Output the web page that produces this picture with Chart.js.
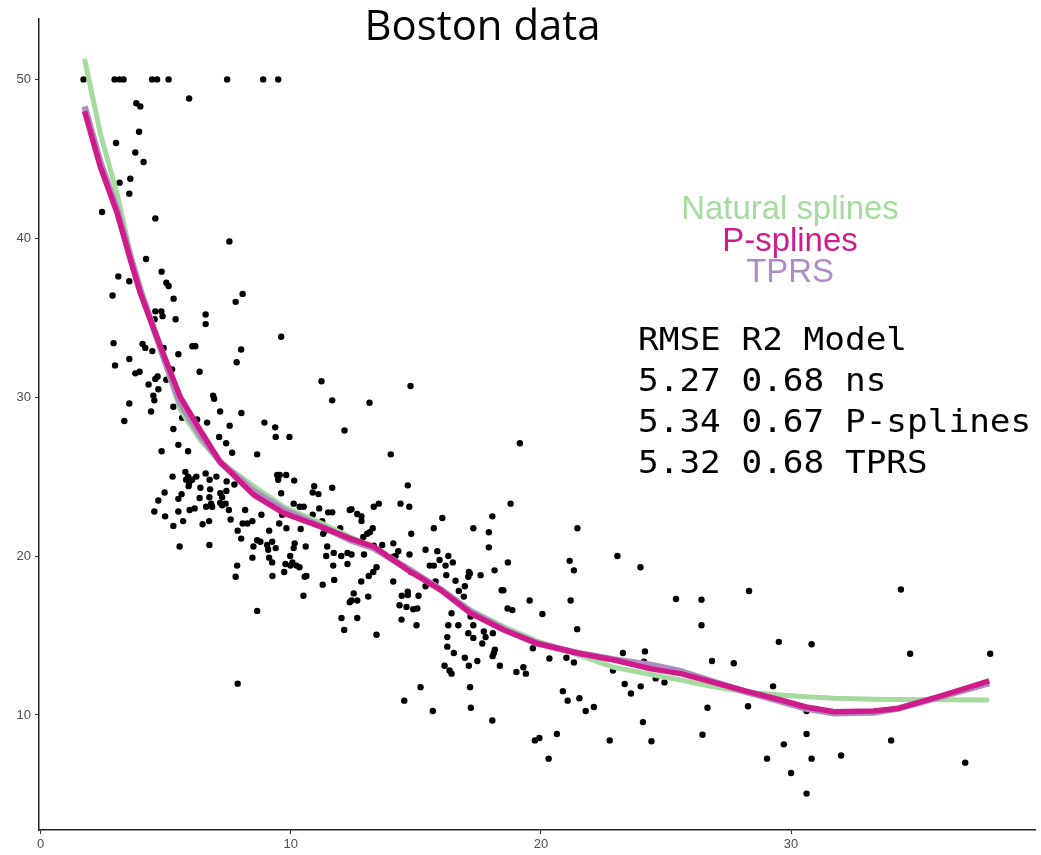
<!DOCTYPE html>
<html><head><meta charset="utf-8">
<script src="https://cdn.jsdelivr.net/npm/chart.js@4.4.1/dist/chart.umd.min.js"></script>
<style>html,body{margin:0;padding:0;background:#fff;overflow:hidden}</style>
</head><body>
<canvas id="c" width="1041" height="855" style="display:block;width:1041px;height:855px"></canvas>
<script>
const titleText = 'Boston data';
const xTicks = [0, 10, 20, 30];
const yTicks = [10, 20, 30, 40, 50];
const seriesNames = ['Natural splines', 'P-splines', 'TPRS'];
const rmse = ['5.27', '5.34', '5.32'];
const r2 = ['0.68', '0.67', '0.68'];
const models = ['ns', 'P-splines', 'TPRS'];
const statsHeader = 'RMSE R2 Model';

const lstat = [
1.72,2.96,3.16,3.32,4.46,4.66,5.12,7.46,8.9,9.5,5.94,3.83,3.99,3.94,3.02,3.79,4.12,3.59,3.16,3.55,2.46,4.59,7.55,4.22,3.11,4.84,3.55,5.03,5.12,2.88,5.32,8.08,7.8,
4.59,4.83,4.88,4.56,5.4,6.6,6.6,2.92,4.08,4.19,4.47,4.92,5.51,6.07,6.19,8.02,9.62,7.84,2.98,3.55,3.79,3.96,5.26,6.36,4.32,4.59,4.68,4.71,5.03,11.23,11.66,4.51,4.55,3.55,4.42,5.31,6.9,6.94,7.18,8.03,3.35,5.66,6.26,6.66,7.56,8.95,9.38,9.4,9.95,12.15,5.31,7.14,5.51,7.42,4.84,5.9,7.66,8.66,
5.28,5.79,5.9,5.82,5.94,6.06,6.23,5.92,6.6,6.76,7.03,6.39,6.78,7.44,7.75,9.46,9.56,9.5,9.82,10.14,9.62,10.94,10.88,11.11,11.66,4.96,5.64,4.71,5.51,6.36,6.75,7.19,7.26,7.43,6.62,6.86,6.82,7.18,7.26,7.4,7.53,5.96,6.16,4.55,5.51,8.18,8.83,10.88,11.14,11.5,11.66,12.36,4.98,7.6,5.7,5.31,6.48,6.74,8.08,8.27,8.47,9.54,9.83,10.4,11.3,11.37,11.26,11.98,7.88,8.02,9.14,
5.56,6.75,8.51,8.79,8.66,9.06,9.1,9.4,9.26,10.16,10.12,10.6,11.46,11.72,12.02,12.27,8.47,9.14,9.26,9.98,10.07,9.79,10.23,10.35,11.42,11.7,12.27,7.86,7.8,9.27,9.74,10.56,10.63,11.74,9.99,9.66,10.12,10.36,10.52,
10.51,11.28,12.36,12.03,12.14,8.66,7.88,
14.79,13.15,14.0,19.16,14.68,14.39,14.74,13.32,13.52,12.43,12.66,12.83,12.83,18.79,18.06,16.06,17.3,17.92,17.92,21.46,15.72,13.28,13.16,13.06,12.9,14.82,13.66,14.1,14.3,14.19,14.1,13.32,14.75,12.43,12.93,15.39,15.86,15.72,15.56,15.95,16.3,16.48,16.19,16.22,17.12,17.16,17.1,17.59,18.15,18.68,21.15,21.32,23.06,23.98,25.4,12.82,14.1,
12.66,12.52,12.66,12.43,13.1,13.43,14.68,14.68,14.44,15.11,14.35,14.63,14.9,15.06,14.43,15.03,15.39,15.79,16.72,16.96,16.92,16.43,16.3,16.26,16.26,16.7,16.52,16.96,17.1,17.3,17.3,17.46,16.15,16.35,16.43,17.12,17.72,17.79,17.66,18.08,18.16,18.07,18.12,18.36,18.67,18.86,18.43,18.5,19.55,20.06,19.68,20.34,21.02,21.32,19.02,19.3,19.4,21.19,21.45,23.28,24.16,24.12,22.88,24.59,
14.82,16.59,17.19,13.43,13.12,13.3,
15.19,14.54,15.68,17.17,17.2,18.06,20.88,21.07,21.54,21.79,22.12,19.76,19.94,20.64,20.31,23.35,23.6,23.99,24.08,22.75,24.42,24.94,
26.42,26.42,28.32,34.39,26.84,27.71,29.51,30.82,34.76,37.96,29.28,26.66,28.28,30.62,26.46,30.62,29.71,34.0,29.04,30.82,32.0,30.0,36.96,30.62
];
const medv = [
50,50,50,50,50,50,50,50,50,50,48.8,48.5,48.3,46.7,46.0,45.4,44.8,43.75,43.5,42.8,41.65,41.25,39.8,38.7,37.6,37.9,37.3,37.2,37.0,36.4,36.2,36.5,36.0,
35.4,35.4,35.1,34.9,34.9,35.2,34.6,33.4,33.35,33.1,32.9,33.1,32.7,33.2,33.2,33.0,33.8,32.2,32.0,32.4,31.5,31.6,31.75,31.6,30.8,31.15,31.3,30.5,31.1,31.0,29.8,30.1,29.8,29.6,29.1,29.4,30.1,29.9,29.1,29.0,28.5,28.7,28.6,28.4,28.2,28.4,28.1,27.5,27.5,27.9,28.0,27.5,27.0,27.1,26.6,26.6,26.5,26.4,
25.0,25.3,25.0,24.8,24.6,24.8,25.0,24.4,25.2,24.8,25.0,24.3,24.2,24.7,24.5,25.1,25.1,24.8,25.1,24.75,23.95,24.4,24.0,23.9,24.3,24.0,23.9,23.5,23.6,23.65,23.7,23.95,23.7,24.1,23.1,23.1,23.3,23.35,23.2,23.3,22.9,22.9,23.0,22.8,22.8,22.9,22.6,22.6,23.0,22.75,22.75,22.9,22.5,22.3,22.2,21.9,22.0,22.2,22.05,22.05,22.2,22.05,21.75,21.7,21.4,21.6,22.2,21.75,21.6,21.1,21.6,
20.6,20.7,20.6,20.9,21.0,20.7,20.4,20.5,20.9,20.8,20.5,20.6,20.6,20.2,20.0,20.2,19.9,19.9,19.6,20.0,19.6,19.5,19.4,19.3,20.0,19.4,19.5,19.4,18.7,18.75,19.0,18.7,18.75,18.5,19.4,22.6,23.3,23.1,23.1,
17.5,18.2,17.1,16.1,15.35,16.55,11.97,
30.7,29.65,26.4,27.1,24.45,23.3,23.1,23.1,23.3,22.95,22.65,22.5,22.2,23.3,22.5,22.4,21.75,21.5,20.55,21.75,21.75,21.75,21.5,21.4,21.2,21.4,20.7,20.8,20.3,20.0,19.95,20.65,20.1,20.1,20.1,20.4,20.3,19.4,19.4,19.75,20.0,19.6,19.4,18.8,19.0,18.9,18.7,18.8,19.1,19.6,19.7,19.1,20.0,19.3,17.3,18.4,18.4,
16.1,17.65,17.2,17.2,17.45,15.05,17.75,17.55,17.5,17.5,16.9,16.8,16.65,16.7,16.0,15.65,18.1,18.4,17.8,18.1,17.45,16.4,15.65,14.9,14.3,15.65,13.9,13.6,15.15,15.65,14.85,13.4,13.1,12.8,12.6,13.1,15.25,14.9,14.5,15.15,14.1,13.7,13.9,13.1,16.7,16.6,17.85,17.85,17.2,16.35,14.2,13.55,13.6,13.3,12.7,13.0,12.6,17.2,15.4,13.9,14.0,13.35,12.8,12.3,
19.0,18.45,16.2,19.3,18.75,19.0,
11.75,10.9,10.25,11.75,10.45,9.65,11.5,10.9,11.05,10.25,10.5,8.4,8.55,8.8,7.25,11.95,11.35,11.8,9.55,8.4,8.35,12.05,
17.25,15.65,17.8,17.9,13.4,13.25,14.6,14.45,13.85,13.85,11.8,10.45,10.55,10.25,8.75,8.8,8.15,8.4,7.25,7.25,7.45,6.35,7.0,5.05
];

const fitX =    [1.76,2.39,3.06,3.6,4.0,4.79,5.59,6.39,7.19,8.52,9.72,11.19,12.39,13.32,14.79,15.99,17.19,18.52,19.86,21.46,22.92,24.4,25.59,26.79,28.2,29.59,30.6,31.73,33.3,34.26,36.0,37.92];
const nsFit =   [51.3,46.6,42.8,39.0,36.8,33.0,29.2,27.3,25.9,24.4,23.1,22.1,21.2,20.5,19.05,17.95,16.6,15.55,14.65,13.8,13.0,12.55,12.2,11.8,11.45,11.26,11.15,11.05,10.99,10.97,10.95,10.94];
const psFit =   [48.0,44.5,41.6,38.6,36.5,33.2,30.0,27.9,25.9,23.85,22.7,21.85,21.1,20.6,19.0,17.87,16.4,15.35,14.5,13.9,13.46,12.9,12.6,12.1,11.5,10.94,10.5,10.2,10.25,10.4,11.2,12.14];
const tprsFit = [48.3,44.8,41.8,38.8,36.7,33.1,29.6,27.6,25.9,24.1,22.9,21.9,21.0,20.5,19.1,17.9,16.5,15.4,14.5,13.9,13.5,13.15,12.75,12.15,11.45,10.85,10.4,10.1,10.15,10.4,11.15,12.0];

const colNs = '#a6dba0', colPs = '#d01c8b', colTprs = '#af8dc3';

const pts = lstat.map((x, i) => ({x: x, y: medv[i]}));
const mk = arr => fitX.map((x, i) => ({x: x, y: arr[i]}));

function fitSize(ctx, text, family, target, weight) {
  ctx.font = (weight || '') + ' 100px ' + family;
  const m = ctx.measureText(text);
  const w = m.actualBoundingBoxLeft + m.actualBoundingBoxRight;
  return 100 * target / w;
}

const textPlugin = {
  id: 'texts',
  afterDraw(chart) {
    const ctx = chart.ctx;
    ctx.save();
    ctx.textBaseline = 'alphabetic';
    let s = fitSize(ctx, titleText, '"Open Sans", sans-serif', 229);
    ctx.font = s + 'px "Open Sans", sans-serif';
    ctx.fillStyle = '#000';
    ctx.textAlign = 'center';
    ctx.fillText(titleText, 482.5, 40);
    s = fitSize(ctx, seriesNames[0], '"Liberation Sans", Arial, sans-serif', 214);
    ctx.font = s + 'px "Liberation Sans", Arial, sans-serif';
    const cols = [colNs, colPs, colTprs];
    const bl = [219, 251, 282];
    seriesNames.forEach((n, i) => { ctx.fillStyle = cols[i]; ctx.fillText(n, 790, bl[i]); });
    ctx.font = '100px "DejaVu Sans Mono", monospace';
    const adv = ctx.measureText('0').width / 100;
    const ms = 20.7 / adv;
    ctx.font = ms + 'px "DejaVu Sans Mono", monospace';
    ctx.fillStyle = '#000';
    ctx.textAlign = 'left';
    const lines = [statsHeader].concat(rmse.map((r, i) => r + ' ' + r2[i] + ' ' + models[i]));
    const lb = [350, 391, 432, 473];
    ctx.save();
    lines.forEach((l, i) => {
      ctx.save();
      ctx.translate(638, lb[i]);
      ctx.scale(1, 0.92);
      ctx.fillText(l, 0, 0);
      ctx.restore();
    });
    ctx.restore();
    ctx.restore();
  }
};

new Chart(document.getElementById('c'), {
  type: 'scatter',
  data: {
    datasets: [
      {label: 'P-splines', data: mk(psFit), showLine: true, borderColor: colPs, borderWidth: 5.5, pointRadius: 0, tension: 0, fill: false, order: 0, borderCapStyle: 'butt', borderJoinStyle: 'round'},
      {label: 'TPRS', data: mk(tprsFit), showLine: true, borderColor: colTprs, borderWidth: 6.5, pointRadius: 0, tension: 0, fill: false, order: 1, borderCapStyle: 'butt', borderJoinStyle: 'round'},
      {label: 'Natural splines', data: mk(nsFit), showLine: true, borderColor: colNs, borderWidth: 5, pointRadius: 0, tension: 0, fill: false, order: 2, borderCapStyle: 'butt', borderJoinStyle: 'round'},
      {label: 'data', data: pts, showLine: false, pointRadius: 3.2, pointBackgroundColor: '#000', pointBorderWidth: 0, borderColor: '#000', order: 3}
    ]
  },
  options: {
    responsive: false,
    animation: false,
    devicePixelRatio: 1,
    layout: {padding: {top: 19, right: 6, left: 0, bottom: 0}},
    plugins: {legend: {display: false}, tooltip: {enabled: false}, title: {display: false}},
    scales: {
      x: {
        type: 'linear', min: -0.06, max: 39.75,
        afterBuildTicks: sc => { sc.ticks = xTicks.map(v => ({value: v})); },
        afterFit: sc => { sc.height = 25; },
        grid: {drawOnChartArea: false, drawTicks: true, tickLength: 4, tickColor: '#333', tickWidth: 1},
        border: {display: true, color: '#222', width: 1.5},
        ticks: {color: '#4d4d4d', font: {family: '"Liberation Sans", Arial, sans-serif', size: 13}, padding: 3, maxRotation: 0}
      },
      y: {
        type: 'linear', min: 2.76, max: 53.8,
        afterBuildTicks: sc => { sc.ticks = yTicks.map(v => ({value: v})); },
        afterFit: sc => { sc.width = 39; },
        grid: {drawOnChartArea: false, drawTicks: true, tickLength: 4, tickColor: '#333', tickWidth: 1},
        border: {display: true, color: '#222', width: 1.5},
        ticks: {color: '#4d4d4d', font: {family: '"Liberation Sans", Arial, sans-serif', size: 13}, padding: 4}
      }
    }
  },
  plugins: [textPlugin]
});
</script>
</body></html>
